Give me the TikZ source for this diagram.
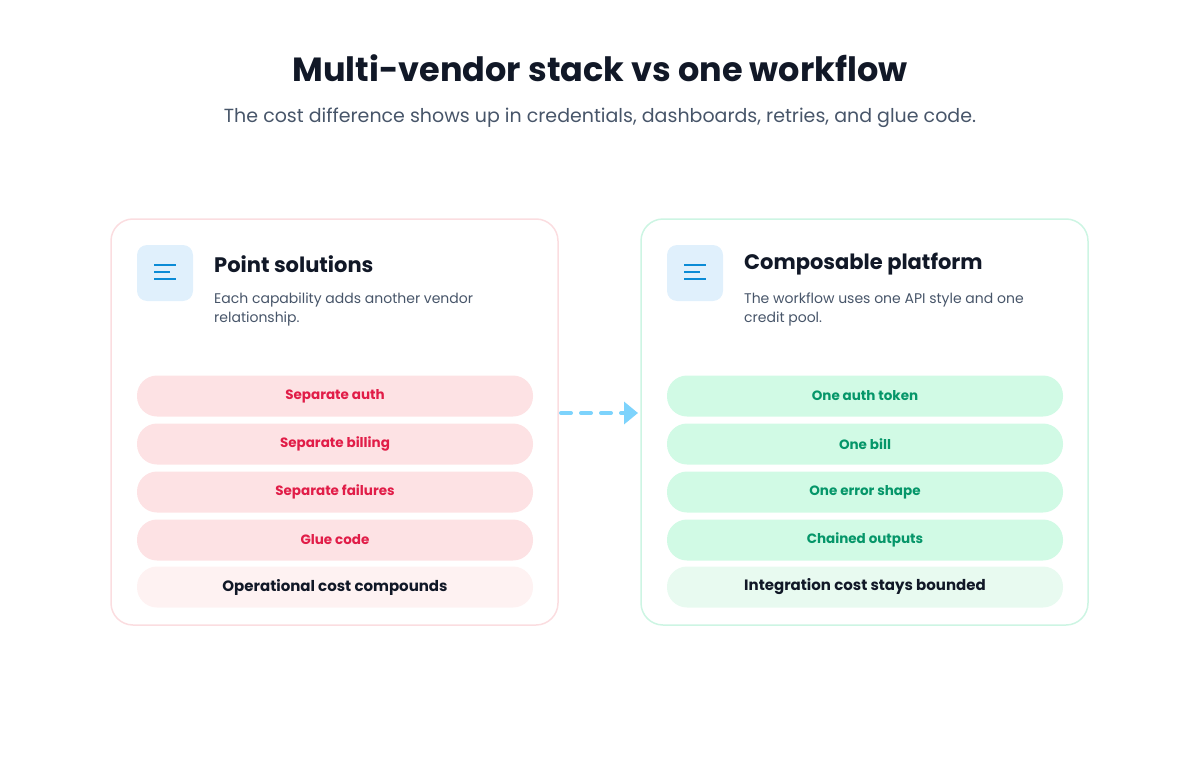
\documentclass[tikz,border=0pt]{standalone}
\usepackage{fontspec}
\setmainfont{Poppins}
\usetikzlibrary{arrows.meta}
\usetikzlibrary{positioning}
\definecolor{ink}{HTML}{111827}
\definecolor{muted}{HTML}{475569}
\definecolor{pinkline}{HTML}{FBDDE0}
\definecolor{greenline}{HTML}{CDF5E3}
\definecolor{pinkfill}{HTML}{FDE2E4}
\definecolor{pinkpale}{HTML}{FEF2F2}
\definecolor{pinktext}{HTML}{E11D48}
\definecolor{greenfill}{HTML}{D1FAE5}
\definecolor{greenpale}{HTML}{E8FAF0}
\definecolor{greentext}{HTML}{059669}
\definecolor{iconfill}{HTML}{E0F0FC}
\definecolor{iconline}{HTML}{0B8BD6}
\definecolor{flow}{HTML}{7DD3FC}

\begin{document}
\begin{tikzpicture}[
		x=1pt, y=-1pt,
		card/.style={draw, line width=1.5pt, rounded corners=22pt},
		icon/.style={fill=iconfill, rounded corners=10pt},
		pill/.style={rounded corners=20pt, minimum width=396pt, minimum height=41pt, inner sep=0pt, font=\fontsize{13.5}{16}\selectfont\bfseries},
		head/.style={anchor=west, inner sep=0pt, text=ink, font=\fontsize{21}{24}\selectfont\bfseries},
		blurb/.style={anchor=north west, inner sep=0pt, text=muted, align=left, font=\fontsize{14}{19}\selectfont}
	]

	\useasboundingbox (0,0) rectangle (1200,760);

	% --- Title ---
	\node (title) at (600,68) {\fontsize{33.5}{40}\selectfont\bfseries\color{ink}Multi-vendor stack vs one workflow};
	\node (sub) at (600,118) {\fontsize{19}{22}\selectfont\color{muted}The cost difference shows up in credentials, dashboards, retries, and glue code.};

	% --- Left card ---
	\draw[card, pinkline] (111,219) rectangle (558,625);
	\fill[icon] (137,245) rectangle (193,301);
	\draw[iconline, line width=2pt] (154,265) -- (176,265) (154,272) -- (170,272) (154,279) -- (176,279);
	\node[head] (lhead) at (214,264) {Point solutions};
	\node[blurb] (ltext) at (214,293) {Each capability adds another vendor\\relationship.};
	\foreach \y/\t in {396/Separate auth, 444/Separate billing, 492/Separate failures, 540/Glue code}
		\node[pill, fill=pinkfill, text=pinktext] at (335,\y) {\t};
	\node[pill, fill=pinkpale, text=ink, font=\fontsize{15}{17}\selectfont\bfseries] (lcost) at (335,587) {Operational cost compounds};

	% --- Right card ---
	\draw[card, greenline] (641,219) rectangle (1088,625);
	\fill[icon] (667,245) rectangle (723,301);
	\draw[iconline, line width=2pt] (684,265) -- (706,265) (684,272) -- (700,272) (684,279) -- (706,279);
	\node[head] (rhead) at (744,264) {Composable platform};
	\node[blurb] (rtext) at (744,293) {The workflow uses one API style and one\\credit pool.};
	\foreach \y/\t in {396/One auth token, 444/One bill, 492/One error shape, 540/Chained outputs}
		\node[pill, fill=greenfill, text=greentext] at (865,\y) {\t};
	\node[pill, fill=greenpale, text=ink, font=\fontsize{15}{17}\selectfont\bfseries] (rcost) at (865,587) {Integration cost stays bounded};

	% --- Arrow ---
	\coordinate (from) at (561,413);
	\coordinate (to) at (638,413);
	\draw[flow, line width=4pt, dash pattern=on 10pt off 10pt, line cap=round, -{Triangle[length=14pt, width=22pt]}] (from) -- (to);

\end{tikzpicture}
\end{document}
